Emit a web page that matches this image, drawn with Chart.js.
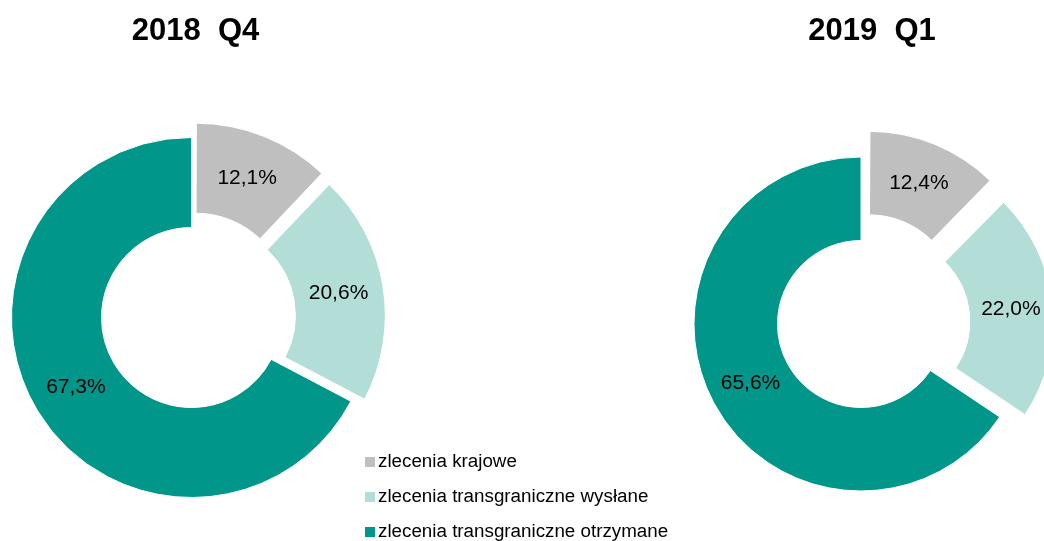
<!DOCTYPE html>
<html>
<head>
<meta charset="utf-8">
<script src="https://cdn.jsdelivr.net/npm/chart.js@4/dist/chart.umd.min.js"></script>
<style>
    html, body { margin: 0; padding: 0; background: #fff; overflow: hidden; }
    #wrap { position: relative; width: 1044px; height: 541px; }
    canvas { position: absolute; left: 0; top: 0; }
</style>
</head>
<body>
<div id="wrap">
    <canvas id="chartQ4" width="1044" height="541"></canvas>
    <canvas id="chartQ1" width="1044" height="541"></canvas>
</div>
<script>
const categories = ["zlecenia krajowe", "zlecenia transgraniczne wysłane", "zlecenia transgraniczne otrzymane"];
const values2018Q4 = [12.1, 20.6, 67.3];
const values2019Q1 = [12.4, 22.0, 65.6];
const titles = ["2018  Q4", "2019  Q1"];
const sliceColors = ["#BFBFBF", "#B3DED8", "#00968A"];

const FONT = "'Liberation Sans', Arial, sans-serif";

// draws the percent labels, the title and (optionally) the shared legend
const textPlugin = {
    id: "textPlugin",
    afterDatasetsDraw(chart, args, opts) {
        const ctx = chart.ctx;
        const meta = chart.getDatasetMeta(0);
        const data = chart.data.datasets[0].data;
        ctx.save();
        ctx.fillStyle = "#000";
        ctx.textAlign = "center";
        ctx.textBaseline = "middle";
        ctx.font = "21px " + FONT;
        meta.data.forEach((arc, i) => {
            const p = arc.getProps(["x", "y", "startAngle", "endAngle", "innerRadius", "outerRadius", "circumference"]);
            const mid = (p.startAngle + p.endAngle) / 2;
            // same shift as the arc element uses for its offset
            const off = (arc.options.offset || 0) / 4;
            const fix = 1 - Math.sin(Math.min(Math.PI, p.circumference));
            const r = (p.innerRadius + p.outerRadius) / 2 + off * (1 + fix);
            const x = p.x + Math.cos(mid) * r;
            const y = p.y + Math.sin(mid) * r;
            ctx.fillText(data[i].toFixed(1).replace(".", ",") + "%", x, y);
        });

        ctx.font = "bold 31px " + FONT;
        ctx.fillText(opts.title, opts.titleX, opts.titleY);

        if (opts.legend) {
            ctx.textAlign = "left";
            ctx.font = "18.8px " + FONT;
            categories.forEach((label, i) => {
                const y = 462 + i * 35;
                ctx.fillStyle = sliceColors[i];
                ctx.fillRect(365, y - 5, 10, 10);
                ctx.fillStyle = "#000";
                ctx.fillText(label, 378, y);
            });
        }
        ctx.restore();
    },
};

function makeDoughnut(id, values, offsets, radius, padding, textOpts) {
    return new Chart(document.getElementById(id), {
        type: "doughnut",
        data: {
            labels: categories,
            datasets: [
                {
                    data: values,
                    backgroundColor: sliceColors,
                    borderColor: "#fff",
                    borderWidth: 1,
                    offset: offsets,
                },
            ],
        },
        options: {
            responsive: false,
            animation: false,
            radius: radius,
            cutout: "50%",
            layout: { padding: padding },
            plugins: {
                legend: { display: false },
                tooltip: { enabled: false },
                textPlugin: textOpts,
            },
        },
        plugins: [textPlugin],
    });
}

makeDoughnut("chartQ4", values2018Q4, [46, 54, 0], 180,
    { left: 0, right: 661, top: 137, bottom: 43 },
    { title: titles[0], titleX: 195.5, titleY: 31, legend: true });

makeDoughnut("chartQ1", values2019Q1, [84, 100, 0], 167,
    { left: 678, right: 0, top: 150, bottom: 43 },
    { title: titles[1], titleX: 872, titleY: 31, legend: false });
</script>
</body>
</html>
